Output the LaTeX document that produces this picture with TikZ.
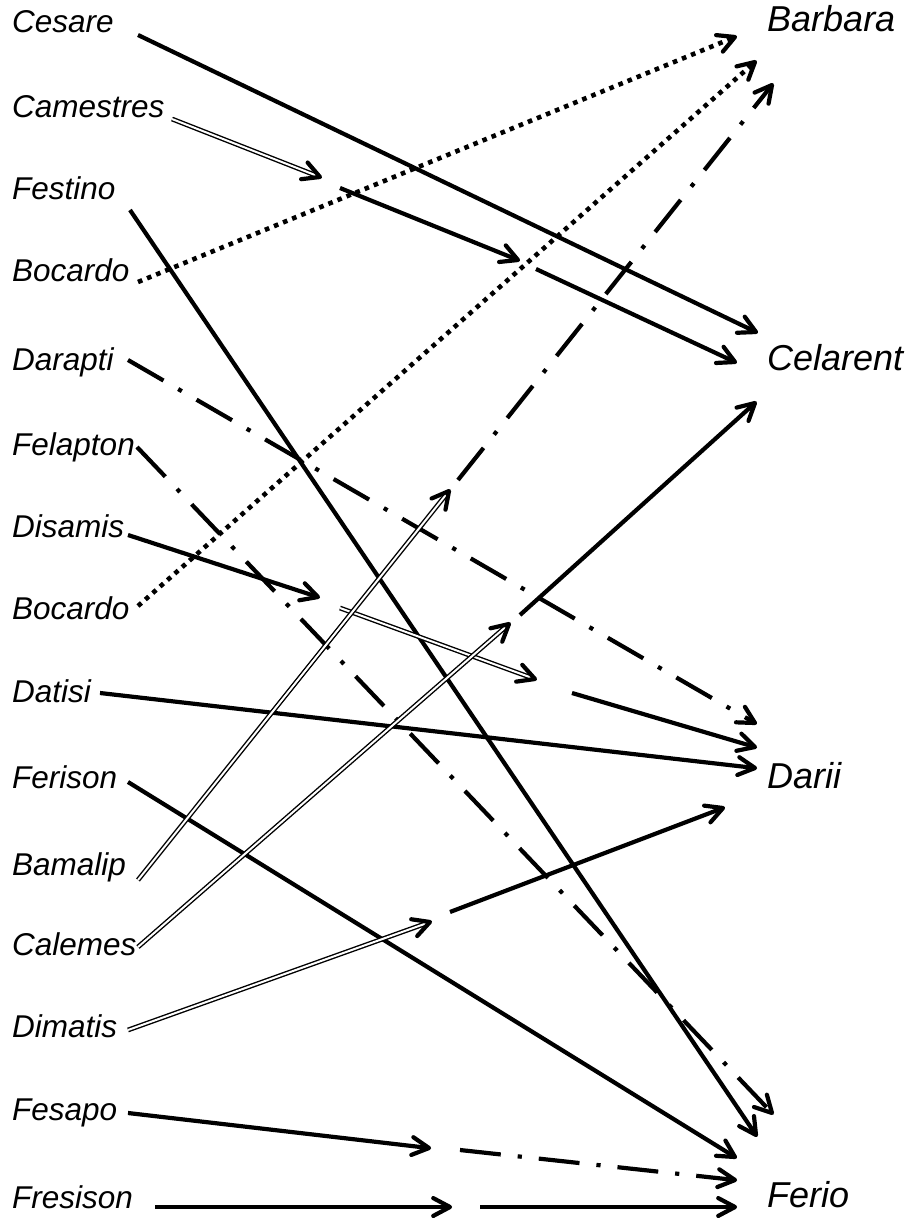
\documentclass[tikz,border=0pt]{standalone}
\usepackage{fontspec}
\setmainfont{Liberation Sans}
\usetikzlibrary{calc}

% open arrowhead drawn as two arms meeting at #2, pointing away from #1
\newcommand\arrowhead[2]{\draw[headline] ($(#2)!19pt!28:(#1)$) -- (#2) -- ($(#2)!19pt!-28:(#1)$);}
% one connector piece: line in style #1 from #2 to #3 with an open arrowhead
\newcommand\link[3]{\draw[#1] (#2) -- (#3); \arrowhead{#2}{#3}}

\begin{document}
\begin{tikzpicture}[x=1pt,y=-1pt,
  lbl/.style={anchor=base west, inner sep=0pt, font=\fontsize{31.5}{36}\selectfont\itshape},
  rlbl/.style={anchor=base west, inner sep=0pt, font=\fontsize{36}{40}\selectfont\itshape},
  solidconn/.style={line width=4.2pt},
  dotconn/.style={line width=4.6pt, dash pattern=on 4.6pt off 5.2pt},
  dashdotconn/.style={line width=4.2pt, dash pattern=on 41pt off 17pt on 4.2pt off 17pt},
  dblconn/.style={double, double distance=2pt, line width=1.4pt, shorten >=2pt},
  headline/.style={line width=4.2pt, line join=round, line cap=round}]

\useasboundingbox (0,0) rectangle (915,1222);

% moods on the left
\node[lbl] (cesare)    at (12,33)   {Cesare};
\node[lbl] (camestres) at (12,118)  {Camestres};
\node[lbl] (festino)   at (12,200)  {Festino};
\node[lbl] (bocardoA)  at (12,282)  {Bocardo};
\node[lbl] (darapti)   at (12,370)  {Darapti};
\node[lbl] (felapton)  at (12,455)  {Felapton};
\node[lbl] (disamis)   at (12,537)  {Disamis};
\node[lbl] (bocardoB)  at (12,619)  {Bocardo};
\node[lbl] (datisi)    at (12,702)  {Datisi};
\node[lbl] (ferison)   at (12,788)  {Ferison};
\node[lbl] (bamalip)   at (12,875)  {Bamalip};
\node[lbl] (calemes)   at (12,955)  {Calemes};
\node[lbl] (dimatis)   at (12,1037) {Dimatis};
\node[lbl] (fesapo)    at (12,1120) {Fesapo};
\node[lbl] (fresison)  at (12,1208) {Fresison};

% perfect moods on the right
\node[rlbl] (barbara)  at (767,32)   {Barbara};
\node[rlbl] (celarent) at (767,370)  {Celarent};
\node[rlbl] (darii)    at (767,788)  {Darii};
\node[rlbl] (ferio)    at (767,1207) {Ferio};

% line ends next to the labels
\coordinate (ces-o) at (138,35);
\coordinate (cam-o) at (172,119);
\coordinate (fes-o) at (130,210);
\coordinate (boA-o) at (138,282);
\coordinate (dar-o) at (128,360);
\coordinate (fel-o) at (137,447);
\coordinate (dis-o) at (128,535);
\coordinate (boB-o) at (138,606);
\coordinate (dat-o) at (100,693);
\coordinate (fen-o) at (128,782);
\coordinate (bam-o) at (138,880);
\coordinate (cal-o) at (138,947);
\coordinate (dim-o) at (128,1030);
\coordinate (fsp-o) at (128,1113);
\coordinate (fre-o) at (155,1207);

\coordinate (bar1) at (735,37);
\coordinate (bar2) at (755,62);
\coordinate (bar3) at (772,85);
\coordinate (cel1) at (756,332);
\coordinate (cel2) at (735,362);
\coordinate (cel3) at (755,403);
\coordinate (dari1) at (755,723);
\coordinate (dari2) at (755,747);
\coordinate (dari3) at (755,768);
\coordinate (dari4) at (723,808);
\coordinate (fer1) at (772,1113);
\coordinate (fer2) at (756,1135);
\coordinate (fer3) at (735,1157);
\coordinate (fer4) at (735,1180);
\coordinate (fer5) at (735,1207);

% intermediate steps
\coordinate (cam-m1) at (320,177);
\coordinate (cam-m2) at (340,188);
\coordinate (cam-m3) at (518,260);
\coordinate (cam-m4) at (536,269);
\coordinate (dis-m1) at (318,597);
\coordinate (dis-m2) at (340,608);
\coordinate (dis-m3) at (535,679);
\coordinate (dis-m4) at (572,693);
\coordinate (bam-m1) at (449,491);
\coordinate (bam-m2) at (458,480);
\coordinate (cal-m1) at (509,624);
\coordinate (cal-m2) at (520,615);
\coordinate (dim-m1) at (430,922);
\coordinate (dim-m2) at (450,912);
\coordinate (fsp-m1) at (429,1148);
\coordinate (fsp-m2) at (460,1150);
\coordinate (fre-m1) at (450,1207);
\coordinate (fre-m2) at (480,1207);

% reductions
\link{solidconn}{ces-o}{cel1}
\link{dblconn}{cam-o}{cam-m1}
\link{solidconn}{cam-m2}{cam-m3}
\link{solidconn}{cam-m4}{cel2}
\link{solidconn}{fes-o}{fer2}
\link{dotconn}{boA-o}{bar1}
\link{dashdotconn}{dar-o}{dari1}
\link{dashdotconn}{fel-o}{fer1}
\link{solidconn}{dis-o}{dis-m1}
\link{dblconn}{dis-m2}{dis-m3}
\link{solidconn}{dis-m4}{dari2}
\link{dotconn}{boB-o}{bar2}
\link{solidconn}{dat-o}{dari3}
\link{solidconn}{fen-o}{fer3}
\link{dblconn}{bam-o}{bam-m1}
\link{dashdotconn}{bam-m2}{bar3}
\link{dblconn}{cal-o}{cal-m1}
\link{solidconn}{cal-m2}{cel3}
\link{dblconn}{dim-o}{dim-m1}
\link{solidconn}{dim-m2}{dari4}
\link{solidconn}{fsp-o}{fsp-m1}
\link{dashdotconn}{fsp-m2}{fer4}
\link{solidconn}{fre-o}{fre-m1}
\link{solidconn}{fre-m2}{fer5}

\end{tikzpicture}
\end{document}
